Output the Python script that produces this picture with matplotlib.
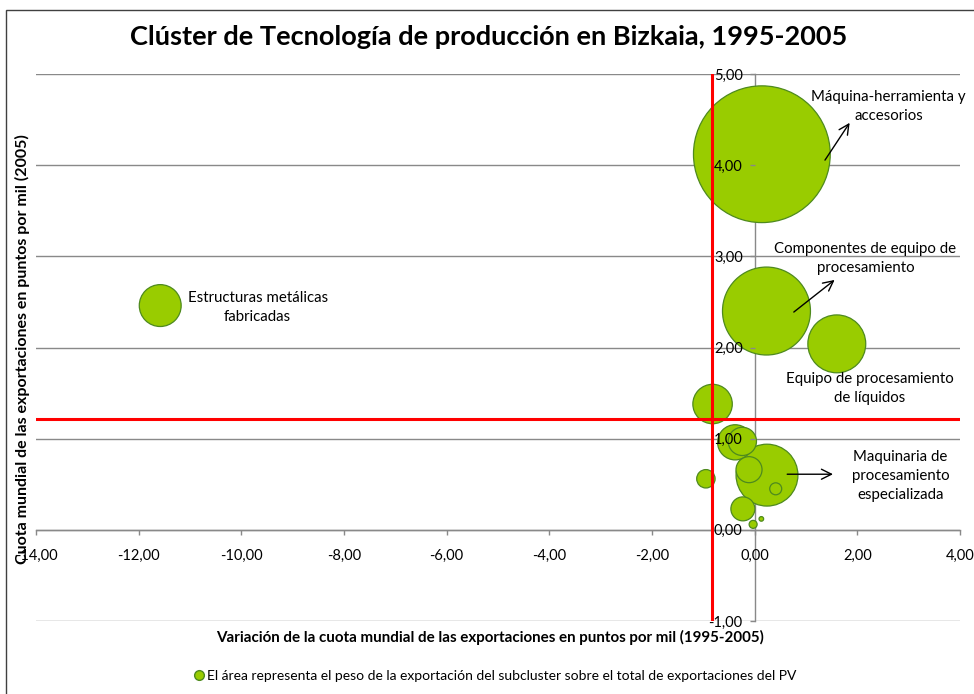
import numpy as np
import matplotlib
matplotlib.use("Agg")
import matplotlib.pyplot as plt
from matplotlib.lines import Line2D
from matplotlib.patches import Rectangle

plt.rcParams['font.family'] = ['Lato', 'DejaVu Sans']

# subclusters: variación de cuota (x), cuota 2005 (y), peso exportación (área)
nombres = ["Máquina-herramienta y accesorios", "Componentes de equipo de procesamiento",
           "Equipo de procesamiento de líquidos", "Estructuras metálicas fabricadas",
           "s5", "s6", "s7", "Maquinaria de procesamiento especializada",
           "s9", "s10", "s11", "s12", "s13", "s14"]
variacion = np.array([0.14, 0.23, 1.60, -11.58, -0.82, -0.38, -0.24, 0.24, -0.11, 0.41, -0.95, -0.23, -0.03, 0.13])
cuota = np.array([4.12, 2.40, 2.04, 2.46, 1.38, 0.96, 0.97, 0.60, 0.66, 0.45, 0.56, 0.23, 0.06, 0.12])
peso = np.array([4.69, 1.94, 0.84, 0.44, 0.39, 0.31, 0.20, 0.96, 0.17, 0.036, 0.085, 0.144, 0.016, 0.0053])

media_x = -0.84
media_y = 1.22

xticks = np.arange(-14, 5, 2)
yticks = np.arange(-1, 6, 1)

verde = '#99CC00'
borde = '#4E8A1E'
gris = '#898989'

fig = plt.figure(figsize=(9.74, 6.94), dpi=100)
W, H = 974, 694
ax = fig.add_axes([36/W, 1-621/H, (960-36)/W, (621-74)/H])
ax.set_xlim(-14, 4)
ax.set_ylim(-1, 5)

# horizontal gridlines behind bubbles
for v in yticks:
    ax.axhline(v, color=gris, lw=1, zorder=0.5)

for s in ['top', 'right']:
    ax.spines[s].set_visible(False)
ax.spines['left'].set_position(('data', 0))
ax.spines['bottom'].set_position(('data', 0))
for s in ['left', 'bottom']:
    ax.spines[s].set_color(gris)
    ax.spines[s].set_linewidth(1)
    ax.spines[s].set_zorder(0.6)

ax.set_xticks(xticks)
ax.set_yticks(yticks)
ax.set_xticklabels([f"{v:.2f}".replace('.', ',') for v in xticks])
ax.set_yticklabels([f"{v:.2f}".replace('.', ',') for v in yticks])
ax.tick_params(axis='both', direction='out', length=3.6, width=1, color=gris, labelsize=10.5)
ax.tick_params(axis='x', pad=10)
ax.tick_params(axis='y', pad=5)
ax.yaxis.set_zorder(5)

# bubble area: largest diameter = 25% of plot height (Excel default)
dmax_pt = 0.25 * (621-74) * 0.72
sizes = peso / peso.max() * dmax_pt**2
orden = np.argsort(-peso)
ax.scatter(variacion[orden], cuota[orden], s=sizes[orden], color=verde,
           edgecolor=borde, linewidth=0.9, zorder=2)

ax.axvline(media_x, color='#FF0000', lw=2.2, zorder=3)
ax.axhline(media_y, color='#FF0000', lw=2.2, zorder=3)

tkw = dict(ha='center', va='center', fontsize=10.8, linespacing=1.45, zorder=6)
ax.text(2.61, 4.64, "Máquina-herramienta y\naccesorios", **tkw)
ax.text(2.16, 2.98, "Componentes de equipo de\nprocesamiento", **tkw)
ax.text(2.24, 1.55, "Equipo de procesamiento\nde líquidos", **tkw)
ax.text(-9.68, 2.44, "Estructuras metálicas\nfabricadas", **tkw)
ax.text(2.84, 0.59, "Maquinaria de\nprocesamiento\nespecializada", **tkw)

akw = dict(arrowstyle='->', color='black', lw=1, mutation_scale=18)
ax.annotate('', xy=(1.88, 4.49), xytext=(1.34, 4.03), arrowprops=akw, zorder=6)
ax.annotate('', xy=(1.60, 2.76), xytext=(0.72, 2.37), arrowprops=akw, zorder=6)
ax.annotate('', xy=(1.58, 0.61), xytext=(0.58, 0.61), arrowprops=akw, zorder=6)

fig.text(489/W, 1-37/H, "Clúster de Tecnología de producción en Bizkaia, 1995-2005",
         ha='center', va='center', fontsize=19.5, fontweight='bold')
fig.text(22/W, 1-349/H, "Cuota mundial de las exportaciones en puntos por mil (2005)",
         ha='center', va='center', rotation=90, fontsize=11.5, fontweight='bold')
fig.text(490/W, 1-637/H, "Variación de la cuota mundial de las exportaciones en puntos por mil (1995-2005)",
         ha='center', va='center', fontsize=10.9, fontweight='bold')

handle = Line2D([], [], marker='o', linestyle='none', markersize=7,
                markerfacecolor=verde, markeredgecolor=borde)
fig.legend(handles=[handle],
           labels=["El área representa el peso de la exportación del subcluster sobre el total de exportaciones del PV"],
           loc='center', bbox_to_anchor=(495/W, 1-676/H), frameon=False,
           handletextpad=0.2, handlelength=0.8, fontsize=10)

fig.patches.append(Rectangle((6/W, -0.1), 1.2, 1-10/H+0.1, transform=fig.transFigure,
                             fill=False, edgecolor='#404040', lw=1))

fig.savefig("out.png", dpi=100)
